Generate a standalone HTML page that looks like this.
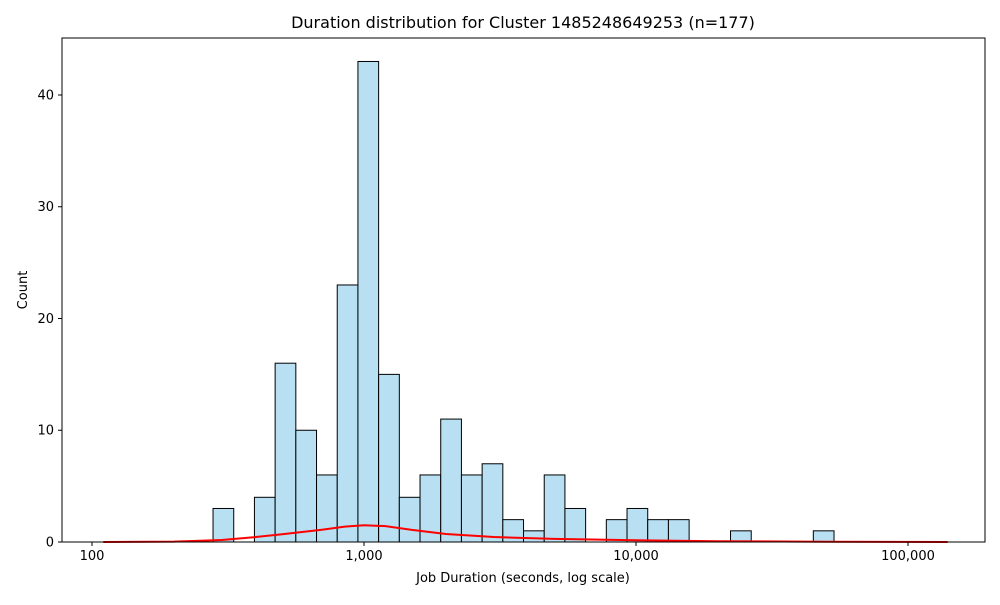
<!DOCTYPE html>
<html><head><meta charset="utf-8"><style>
body{margin:0;background:#fff;font-family:"Liberation Sans","DejaVu Sans",sans-serif}
svg text{font-family:"DejaVu Sans","Liberation Sans",sans-serif}
</style></head><body>
<svg id="chart" width="1000" height="600" xmlns="http://www.w3.org/2000/svg"></svg>
<script>
const binMin = 278.6;
const binMax = 53460;
const counts = [3,0,4,16,10,6,23,43,15,4,6,11,6,7,2,1,6,3,0,2,3,2,2,0,0,1,0,0,0,1];
const kdeX = [110,200,300,400,500,700,850,1000,1200,1500,2000,3000,5000,10000,20000,50000,140000];
const kdeY = [0,0.04,0.18,0.45,0.7,1.1,1.38,1.5,1.42,1.08,0.72,0.45,0.28,0.15,0.07,0.03,0.0];
const xTicks = [100,1000,10000,100000];
const xTickLabels = ["100","1,000","10,000","100,000"];
const yTicks = [0,10,20,30,40];

const L=62,R=985,T=38,B=542;
const xs = v => 92 + (Math.log10(v)-2)*272;
const ys = v => B - v*(B-T)/45.1;
const svg=document.getElementById('chart');
const NS='http://www.w3.org/2000/svg';
function mk(tag,attrs,parent){const e=document.createElementNS(NS,tag);for(const k in attrs)e.setAttribute(k,attrs[k]);(parent||svg).appendChild(e);return e;}

const lmin=Math.log10(binMin), lmax=Math.log10(binMax), n=counts.length, w=(lmax-lmin)/n;
const bars=mk('g',{});


counts.forEach((c,i)=>{
  if(c<=0) return;
  const x0=xs(Math.pow(10,lmin+i*w)), x1=xs(Math.pow(10,lmin+(i+1)*w));
  const r=mk('rect',{x:x0,y:ys(c),width:x1-x0,height:ys(0)-ys(c),fill:'#b8e0f2',stroke:'#000','stroke-width':1},bars);
  
  
});
const d=kdeX.map((v,i)=>(i?'L':'M')+xs(v).toFixed(1)+','+ys(kdeY[i]).toFixed(1)).join(' ');
const kde=mk('path',{d:d,fill:'none',stroke:'#ff0000','stroke-width':2});



const frame=mk('rect',{x:L,y:T,width:R-L,height:B-T,fill:'none',stroke:'#000','stroke-width':1});



xTicks.forEach((t,i)=>{
  const x=xs(t);
  mk('line',{x1:x,x2:x,y1:B,y2:B+4,stroke:'#000'});
  const tx=mk('text',{x:x,y:B+18,'text-anchor':'middle','font-size':13});
  tx.textContent=xTickLabels[i];
  
  
});
yTicks.forEach(t=>{
  const y=ys(t);
  mk('line',{x1:L-4,x2:L,y1:y,y2:y,stroke:'#000'});
  const tx=mk('text',{x:L-8,y:y+4.5,'text-anchor':'end','font-size':13});
  tx.textContent=t;
  
  
});
const title=mk('text',{x:523,y:28,'text-anchor':'middle','font-size':16});
title.textContent='Duration distribution for Cluster 1485248649253 (n=177)';


const xl=mk('text',{x:523,y:582,'text-anchor':'middle','font-size':13});
xl.textContent='Job Duration (seconds, log scale)';


const yl=mk('text',{x:27,y:290,'text-anchor':'middle','font-size':13,transform:'rotate(-90 27 290)'});
yl.textContent='Count';


</script>
</body></html>
